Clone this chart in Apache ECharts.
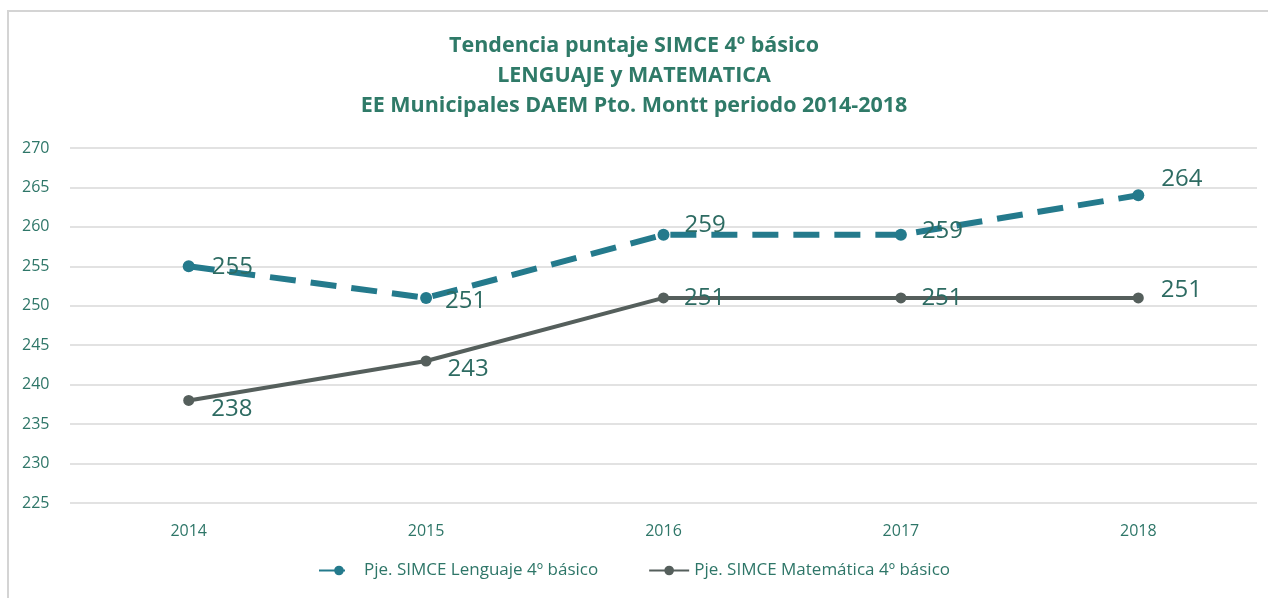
<!DOCTYPE html>
<html>
<head>
<meta charset="utf-8">
<script src="https://cdn.jsdelivr.net/npm/echarts@6/dist/echarts.min.js"></script>
<style>
  html, body { margin: 0; padding: 0; background: #fff; }
  #chart { width: 1268px; height: 598px; }
</style>
</head>
<body>
<div id="chart"></div>
<script>
// datos
const years = ['2014', '2015', '2016', '2017', '2018'];
const lenguaje = [255, 251, 259, 259, 264];
const matematica = [238, 243, 251, 251, 251];
const seriesNames = ['Pje. SIMCE Lenguaje 4º básico', 'Pje. SIMCE Matemática 4º básico'];

// posición de cada etiqueta (dx, dy) relativo al punto
const lenguajeOffsets = [[17, 1], [13, 3], [15, -10], [15, -4], [17, -16]];
const matematicaOffsets = [[17, 9], [16, 8], [15, 0], [15, 0], [17, -8]];

const textColor = '#2e7668';
const font = '"Open Sans", "Noto Sans", sans-serif';

let myChart = echarts.init(document.getElementById('chart'));

function buildData(vals, offs) {
    let arr = [];
    for (let i = 0; i < vals.length; i++) {
        arr.push({ value: vals[i], label: { offset: offs[i] } });
    }
    return arr;
}

let option = {
    animation: false,
    title: {
        text: 'Tendencia puntaje SIMCE 4º básico\nLENGUAJE y MATEMATICA\nEE Municipales DAEM Pto. Montt periodo 2014-2018',
        left: 'center',
        top: 26,
        textStyle: {
            color: '#2f7a68',
            fontFamily: font,
            fontWeight: 'bold',
            fontSize: 21.5,
            lineHeight: 30
        }
    },
    graphic: [{
        type: 'polyline',
        shape: { points: [[8, 598], [8, 11], [1268, 11]] },
        style: { stroke: '#d4d4d4', lineWidth: 2, fill: null }
    }],
    legend: {
        bottom: 14,
        left: 'center',
        itemGap: 50,
        itemWidth: 40,
        itemHeight: 12,
        textStyle: { color: textColor, fontFamily: font, fontSize: 17 },
        data: seriesNames
    },
    grid: {
        left: 70,
        right: 11,
        top: 148,
        height: 355
    },
    xAxis: {
        type: 'category',
        data: years,
        axisLine: { show: false },
        axisTick: { show: false },
        axisLabel: { color: textColor, fontFamily: font, fontSize: 16, margin: 20 }
    },
    yAxis: {
        type: 'value',
        min: 225,
        max: 270,
        interval: 5,
        axisLine: { show: false },
        axisTick: { show: false },
        axisLabel: { color: textColor, fontFamily: font, fontSize: 16, margin: 18, align: 'left', padding: [0, 0, 0, -30] },
        splitLine: { lineStyle: { color: '#d9d9d9', width: 1.5 } }
    },
    series: [{
        name: seriesNames[0],
        type: 'line',
        data: buildData(lenguaje, lenguajeOffsets),
        symbol: 'circle',
        symbolSize: 12,
        itemStyle: { color: '#247a8c' },
        lineStyle: { color: '#247a8c', width: 6, type: [26, 15] },
        label: {
            show: true,
            position: 'right',
            distance: 0,
            color: '#2d6b62',
            fontFamily: font,
            fontSize: 24
        },
        z: 3
    }, {
        name: seriesNames[1],
        type: 'line',
        data: buildData(matematica, matematicaOffsets),
        symbol: 'circle',
        symbolSize: 11,
        itemStyle: { color: '#555f5c' },
        lineStyle: { color: '#555f5c', width: 4 },
        label: {
            show: true,
            position: 'right',
            distance: 0,
            color: '#2d6b62',
            fontFamily: font,
            fontSize: 24
        },
        z: 2
    }]
};

myChart.setOption(option);

window.addEventListener("resize", function() {
    myChart.resize();
});
</script>
</body>
</html>
